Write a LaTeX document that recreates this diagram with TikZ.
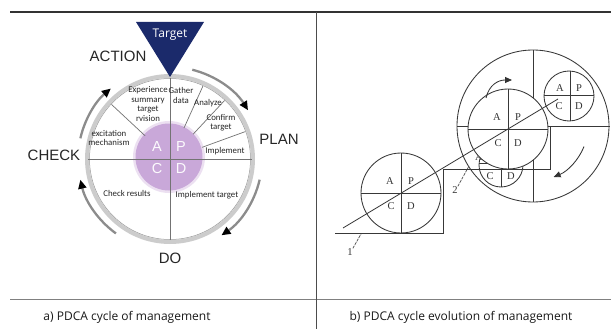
\documentclass[tikz,border=0pt]{standalone}
\usepackage{fontspec}
\setmainfont{Carlito}
\newfontfamily\arialf{Liberation Sans}
\newfontfamily\capf{Open Sans}
\newfontfamily\serf{Liberation Serif}
\usetikzlibrary{arrows.meta}
\definecolor{navyT}{HTML}{1B2A6B}
\definecolor{lilac}{HTML}{C9A8D9}
\begin{document}
\begin{tikzpicture}[x=1pt,y=-1pt,
  frameline/.style={draw=black!80,line width=1.1pt},
  innertxt/.style={font=\fontsize{8.8}{9.4}\selectfont,inner sep=0pt,align=center,text=black!85},
  bigtxt/.style={font=\arialf\fontsize{15}{15}\selectfont,text=black!85,inner sep=0pt},
  apcd/.style={font=\arialf\fontsize{14.5}{14.5}\selectfont,text=white!95!lilac,inner sep=0pt},
  cyc/.style={draw=black!45,line width=2.3pt,-{Triangle[length=9pt,width=8pt,color=black]}},
  divline/.style={draw=black!55,line width=0.7pt},
  rline/.style={draw=black!78,line width=0.85pt},
  rlet/.style={font=\serf\fontsize{10.5}{10.5}\selectfont,inner sep=0pt,text=black!80},
  rarrow/.style={draw=black!80,line width=0.85pt,-{Triangle[length=7pt,width=6pt]}},
  captxt/.style={font=\capf\fontsize{12}{12}\selectfont,inner sep=0pt,text=black!90}]
\useasboundingbox (0,0) rectangle (611,329);
% frame
\draw[frameline] (10,12) -- (611,12);
\draw[draw=black!50,line width=0.9pt] (10,299) -- (611,299);
\draw[draw=black!70,line width=0.9pt] (316,12) -- (316,329);
\node[captxt] (capa) at (127,317) {a) PDCA cycle of management};
\node[captxt] (capb) at (461,317) {b) PDCA cycle evolution of management};

% ---------- left diagram ----------
\coordinate (LC) at (170,159);
\draw[fill=white,draw=black!20,line width=4pt] (LC) circle (83);
\draw[draw=black!40,line width=0.5pt] (LC) circle (80.5);
\fill[lilac,opacity=0.35] (169,157) circle (36);
\fill[lilac] (169,157) circle (33.5);
\draw[divline] (170,78) -- (170,240);
\draw[divline] (88,159) -- (252,159);
\foreach \a in {-65.7,-47,-20,-137}{
  \draw[divline,shift={(170,159)}] (\a:34) -- (\a:80);
}
\node[apcd] (lA) at (157,147) {A};
\node[apcd] (lP) at (181,147) {P};
\node[apcd] (lC) at (157,169) {C};
\node[apcd] (lD) at (181,169) {D};
% target triangle
\fill[navyT] (136,22) -- (204,22) -- (170,77) -- cycle;
\node[font=\capf\fontsize{12}{12}\selectfont,text=white,inner sep=0pt] (tgt) at (170,35) {Target};
% big labels
\node[bigtxt] (act) at (118,56) {ACTION};
\node[bigtxt] (plan) at (279,139) {PLAN};
\node[bigtxt] (chk) at (54,155) {CHECK};
\node[bigtxt] (do) at (170,258) {DO};
% inner texts
\node[innertxt] (t1) at (148,104) {Experience\\summary\\target\\rvision};
\node[innertxt] (t2) at (181,95.5) {Gather\\data};
\node[innertxt] (t3) at (208,103) {Analyze};
\node[innertxt] (t4) at (221,122.5) {Confirm\\target};
\node[innertxt] (t5) at (225,151) {Implement};
\node[innertxt] (t6) at (109,138) {excitation\\mechanism};
\node[innertxt] (t7) at (127,193) {Check results};
\node[innertxt] (t8) at (207,195) {Implement target};
% cycle arrows
\draw[cyc] (LC) ++(-76:92) arc[start angle=-76,end angle=-32,radius=92];
\draw[cyc] (LC) ++(13:92) arc[start angle=13,end angle=56,radius=92];
\draw[cyc] (LC) ++(126:92) arc[start angle=126,end angle=167,radius=92];
\draw[cyc] (LC) ++(193:92) arc[start angle=193,end angle=230,radius=92];

% ---------- right diagram ----------
% big circle
\coordinate (BC) at (533,126);
\draw[rline,fill=white] (BC) circle (76);
\draw[rline] (457,126) -- (609,126);
\draw[rline] (533,50) -- (533,202);
% lower small circle (partly hidden)
\coordinate (LS) at (501,165);
\draw[rline,fill=white] (LS) circle (22);
\draw[rline] (479,163) -- (523,163);
\draw[rline] (501,143) -- (501,187);
\node[rlet] (lsA) at (479,157) {A};
\node[rlet] (lsC) at (490,176) {C};
\node[rlet] (lsD) at (511,176) {D};
% middle circle
\coordinate (MC) at (508,129);
\draw[rline,fill=white] (MC) circle (40);
\draw[rline] (468,129) -- (548,129);
\draw[rline] (508,89) -- (508,169);
\node[rlet] (mA) at (497,117) {A};
\node[rlet] (mP) at (518,117) {P};
\node[rlet] (mC) at (498,143) {C};
\node[rlet] (mD) at (518,143) {D};
% top small circle
\coordinate (TS) at (569,96);
\draw[rline,fill=white] (TS) circle (25);
\draw[rline] (544,95) -- (594,95);
\draw[rline] (570,71) -- (570,121);
\node[rlet] (tA) at (560,88) {A};
\node[rlet] (tP) at (579,88) {P};
\node[rlet] (tC) at (559,106) {C};
\node[rlet] (tD) at (579,106) {D};
% circle 1
\coordinate (C1) at (401,193);
\draw[rline,fill=white] (C1) circle (40);
\draw[rline] (361,193) -- (441,193);
\draw[rline] (401,153) -- (401,233);
\node[rlet] (oA) at (390,181) {A};
\node[rlet] (oP) at (411,181) {P};
\node[rlet] (oC) at (391,206) {C};
\node[rlet] (oD) at (411,206) {D};
% staircase
\draw[rline] (335,233) -- (443,233) -- (443,169) -- (550,169) -- (550,126) -- (610,126);
% slope line
\coordinate (s0) at (343,228);
\coordinate (s1) at (558,99);
\draw[rline] (s0) -- (s1);
% arrows
\draw[rarrow] (486,98) .. controls (489,85) and (498,80) .. (512,80);
\draw[rarrow] (BC) ++(22:55) arc[start angle=22,end angle=68,radius=55];
% labels
\node[rlet] (n1) at (350,252) {1};
\coordinate (n1e) at (361,234);
\draw[draw=black!70,line width=0.7pt,dash pattern=on 3pt off 1pt] (n1.north east) -- (n1e);
\node[rlet] (n2) at (455,190) {2};
\coordinate (n2e) at (469,166);
\draw[draw=black!70,line width=0.7pt,dash pattern=on 3pt off 1pt] (n2.north east) -- (n2e);
\end{tikzpicture}
\end{document}
